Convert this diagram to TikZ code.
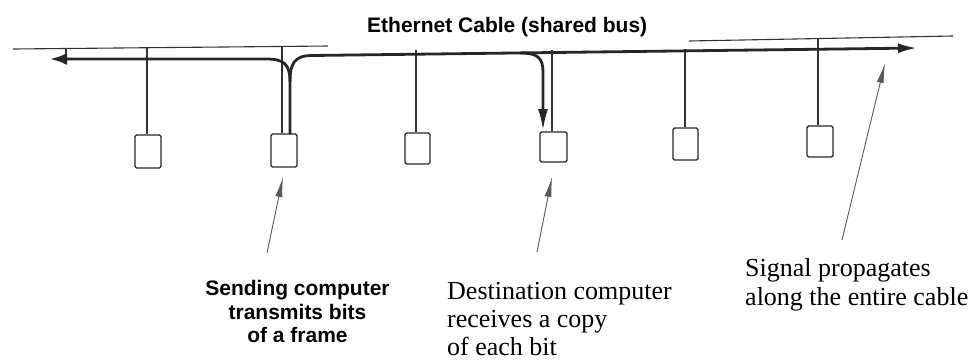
\documentclass[tikz,border=0pt]{standalone}
\usepackage{fontspec}
\setmainfont{Liberation Serif}
\setsansfont{Liberation Sans}
\usetikzlibrary{arrows.meta}

\tikzset{
  cable/.style={draw=black!80, line width=1.1pt},
  stub/.style={draw=black!80, line width=1.1pt},
  signal/.style={draw=black!85, line width=2.8pt},
  host/.style={draw=black!85, line width=1.4pt, rounded corners=1.5pt, inner sep=0pt},
  note/.style={draw=black!65, line width=0.9pt, -{Latex[length=20pt,width=7pt]}},
  boldlabel/.style={font=\sffamily\bfseries\fontsize{21}{25}\selectfont, inner sep=0pt},
  seriflabel/.style={font=\rmfamily\fontsize{26}{30}\selectfont, inner sep=0pt, anchor=base west},
}

\begin{document}
\begin{tikzpicture}[x=1pt,y=-1pt]
\useasboundingbox (0,0) rectangle (975,362);

% title over the bus
\node[boldlabel, anchor=base west] (title) at (367,32) {Ethernet Cable (shared bus)};

% the cable: visible at both ends, hidden behind the title in the middle
\coordinate (cl1) at (13,49);  \coordinate (cl2) at (328,46);
\coordinate (cr1) at (689,41); \coordinate (cr2) at (953,36);
\draw[cable] (cl1) -- (cl2);
\draw[cable] (cr1) -- (cr2);

% stations
\node[host, minimum width=26pt, minimum height=33pt] (h1) at (148,151.5) {};
\node[host, minimum width=26pt, minimum height=33pt] (h2) at (284,150.5) {};
\node[host, minimum width=25pt, minimum height=31pt] (h3) at (417.5,148.5) {};
\node[host, minimum width=27pt, minimum height=30pt] (h4) at (553.5,147) {};
\node[host, minimum width=25pt, minimum height=32pt] (h5) at (685.5,144) {};
\node[host, minimum width=26pt, minimum height=31pt] (h6) at (820,141.5) {};

% taps from the cable down to each station
\coordinate (t1) at (147,48);
\coordinate (t2) at (282,46);
\coordinate (t3) at (416,50);
\coordinate (t4) at (552,50);
\coordinate (t5) at (685,49);
\coordinate (t6) at (818,39);
\coordinate (t0) at (66,49);
\draw[stub] (t1) -- (t1 |- h1.north);
\draw[stub] (t2) -- (t2 |- h2.north);
\draw[stub] (t3) -- (t3 |- h3.north);
\draw[stub] (t4) -- (t4 |- h4.north);
\draw[stub] (t5) -- (t5 |- h5.north);
\draw[stub] (t6) -- (t6 |- h6.north);
\draw[stub] (t0) -- ++(0,9);

% signal leaving the sender in both directions
\coordinate (src) at (290,134);
\coordinate (fork) at (290,82);
\coordinate (lend) at (50,59);
\coordinate (rend) at (917,48);
\draw[signal, -{Latex[length=17pt,width=12pt]}]
  (src) -- (fork) .. controls (290,64) and (284,59) .. (266,59) -- (lend);
\draw[signal, -{Latex[length=19pt,width=10pt]}]
  (fork) .. controls (290,64) and (294,55.5) .. (312,55.5) -- (rend);

% copy taken off by the destination
\coordinate (dtap) at (520,53);
\coordinate (dend) at (543,131);
\draw[signal, -{Latex[length=22pt,width=10pt]}]
  (dtap) .. controls (538,53) and (543,58) .. (543,72) -- (dend);

% sender label
\node[boldlabel, anchor=base] (send1) at (297.5,295) {Sending computer};
\node[boldlabel, anchor=base] (send2) at (297.5,319) {transmits bits};
\node[boldlabel, anchor=base] (send3) at (297.5,342) {of a frame};

% destination label
\node[seriflabel] (dest1) at (447,299) {Destination computer};
\node[seriflabel] (dest2) at (447,327) {receives a copy};
\node[seriflabel] (dest3) at (447,355) {of each bit};

% propagation label
\node[seriflabel] (prop1) at (745,276) {Signal propagates};
\node[seriflabel] (prop2) at (745,305) {along the entire cable};

% pointers
\coordinate (p1a) at (267,253); \coordinate (p1b) at (283,177);
\coordinate (p2a) at (537,252); \coordinate (p2b) at (552,177);
\coordinate (p3a) at (842,240); \coordinate (p3b) at (885,63);
\draw[note] (p1a) -- (p1b);
\draw[note] (p2a) -- (p2b);
\draw[note] (p3a) -- (p3b);
\end{tikzpicture}
\end{document}
